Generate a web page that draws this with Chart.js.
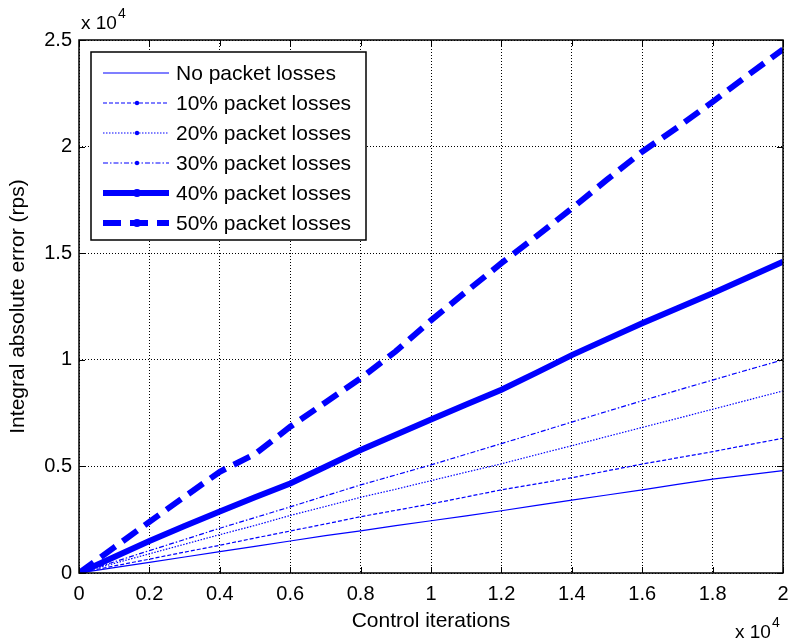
<!DOCTYPE html>
<html>
<head>
<meta charset="utf-8">
<script src="https://cdn.jsdelivr.net/npm/chart.js@4/dist/chart.umd.min.js"></script>
<style>
  body { margin: 0; background: #fff; }
  #wrap { width: 788px; height: 644px; position: relative; }
</style>
</head>
<body>
<div id="wrap"><canvas id="iaeChart"></canvas></div>
<script>
// control iterations (raw count) and integral absolute error (rps, raw)
const iterations = [0, 1000, 2000, 3000, 4000, 5000, 6000, 7000, 8000, 9000, 10000,
                    11000, 12000, 13000, 14000, 15000, 16000, 17000, 18000, 19000, 20000];
const iaeNoLoss = [0, 250, 500, 750, 1000, 1250, 1500, 1750, 1980, 2220, 2450,
                   2680, 2920, 3170, 3420, 3660, 3900, 4160, 4400, 4600, 4800];
const iaeLoss10 = [0, 330, 650, 980, 1300, 1640, 1970, 2300, 2640, 2940, 3240,
                   3570, 3900, 4180, 4470, 4790, 5110, 5400, 5690, 6010, 6320];
const iaeLoss20 = [0, 450, 900, 1350, 1800, 2230, 2700, 3120, 3550, 3930, 4330,
                   4730, 5120, 5550, 5970, 6400, 6830, 7250, 7680, 8110, 8540];
const iaeLoss30 = [0, 520, 1050, 1570, 2100, 2600, 3100, 3620, 4130, 4600, 5070,
                   5570, 6070, 6570, 7080, 7580, 8080, 8570, 9050, 9530, 10000];
const iaeLoss40 = [0, 750, 1500, 2200, 2880, 3550, 4200, 4980, 5770, 6480, 7200,
                   7900, 8600, 9400, 10220, 10970, 11710, 12420, 13120, 13860, 14600];
const iaeLoss50 = [0, 1200, 2400, 3580, 4750, 5580, 6860, 8000, 9130, 10400, 11850,
                   13200, 14530, 15800, 17100, 18450, 19760, 20900, 22100, 23350, 24560];

const seriesNames = ['No packet losses', '10% packet losses', '20% packet losses',
                     '30% packet losses', '40% packet losses', '50% packet losses'];

const xTickValues = [0, 2000, 4000, 6000, 8000, 10000, 12000, 14000, 16000, 18000, 20000];
const xTickLabels = ['0', '0.2', '0.4', '0.6', '0.8', '1', '1.2', '1.4', '1.6', '1.8', '2'];
const yTickValues = [0, 5000, 10000, 15000, 20000, 25000];
const yTickLabels = ['0', '0.5', '1', '1.5', '2', '2.5'];

const FONT = "'Liberation Sans', Arial, Helvetica, sans-serif";
const BLUE = '#0000ff';

// line style per series: width, dash, legend marker
const styles = [
    { width: 1.2, dash: [], marker: false },
    { width: 1.2, dash: [4, 2], marker: true },
    { width: 1.2, dash: [1.5, 1.5], marker: true },
    { width: 1.2, dash: [5, 2, 1.5, 2], marker: true },
    { width: 6, dash: [], marker: true },
    { width: 6, dash: [18, 9], marker: true }
];
const seriesValues = [iaeNoLoss, iaeLoss10, iaeLoss20, iaeLoss30, iaeLoss40, iaeLoss50];

const datasets = seriesValues.map((vals, i) => ({
    label: seriesNames[i],
    data: vals.map((v, k) => ({ x: iterations[k], y: v })),
    borderColor: BLUE,
    borderWidth: styles[i].width,
    borderDash: styles[i].dash,
    pointRadius: 0,
    tension: 0,
    fill: false
}));

// axes box with inward ticks, boxed legend and the "x 10^4" multipliers
const matlabFrame = {
    id: 'matlabFrame',
    afterDraw(chart) {
        const { ctx, chartArea: a, scales } = chart;
        ctx.save();
        ctx.strokeStyle = '#000';
        ctx.lineWidth = 1.5;
        ctx.setLineDash([]);
        ctx.strokeRect(a.left, a.top, a.right - a.left, a.bottom - a.top);

        const tl = 6;
        ctx.lineWidth = 1;
        ctx.beginPath();
        xTickValues.forEach(v => {
            const px = Math.round(scales.x.getPixelForValue(v)) + 0.5;
            ctx.moveTo(px, a.bottom); ctx.lineTo(px, a.bottom - tl);
            ctx.moveTo(px, a.top); ctx.lineTo(px, a.top + tl);
        });
        yTickValues.forEach(v => {
            const py = Math.round(scales.y.getPixelForValue(v)) + 0.5;
            ctx.moveTo(a.left, py); ctx.lineTo(a.left + tl, py);
            ctx.moveTo(a.right, py); ctx.lineTo(a.right - tl, py);
        });
        ctx.stroke();

        // legend
        const lx = a.left + 12, ly = a.top + 12, lw = 275, lh = 188;
        ctx.fillStyle = '#fff';
        ctx.fillRect(lx, ly, lw, lh);
        ctx.strokeStyle = '#000';
        ctx.lineWidth = 1.5;
        ctx.strokeRect(lx, ly, lw, lh);
        ctx.font = '21px ' + FONT;
        ctx.textBaseline = 'middle';
        ctx.textAlign = 'left';
        seriesNames.forEach((name, i) => {
            const y = ly + 21 + i * 30;
            const st = styles[i];
            ctx.strokeStyle = BLUE;
            ctx.lineWidth = st.width;
            ctx.setLineDash(st.dash);
            ctx.beginPath();
            ctx.moveTo(lx + 12, y);
            ctx.lineTo(lx + 78, y);
            ctx.stroke();
            ctx.setLineDash([]);
            if (st.marker) {
                ctx.fillStyle = BLUE;
                ctx.beginPath();
                ctx.arc(lx + 46, y, st.width > 2 ? 4 : 2.2, 0, Math.PI * 2);
                ctx.fill();
            }
            ctx.fillStyle = '#000';
            ctx.fillText(name, lx + 85, y + 1);
        });

        // exponent labels
        ctx.fillStyle = '#000';
        ctx.textBaseline = 'alphabetic';
        const drawExp = (x, y) => {
            ctx.font = '19px ' + FONT;
            ctx.fillText('x 10', x, y);
            const w = ctx.measureText('x 10').width;
            ctx.font = '14px ' + FONT;
            ctx.fillText('4', x + w + 1, y - 11);
        };
        drawExp(a.left + 2, a.top - 11);
        drawExp(735, 638);
        ctx.restore();
    }
};

const ctx = document.getElementById('iaeChart').getContext('2d');
new Chart(ctx, {
    type: 'line',
    data: { datasets: datasets },
    plugins: [matlabFrame],
    options: {
        responsive: true,
        maintainAspectRatio: false,
        animation: false,
        layout: { padding: { top: 40, right: 5, left: 0, bottom: 0 } },
        plugins: {
            legend: { display: false },
            tooltip: { enabled: false }
        },
        scales: {
            x: {
                type: 'linear',
                min: 0,
                max: 20000,
                afterBuildTicks: s => { s.ticks = xTickValues.map(v => ({ value: v })); },
                afterFit: s => { s.height = 71; s.paddingLeft = 0; s.paddingRight = 0; },
                grid: { color: '#000', lineWidth: 1, drawTicks: false },
                border: { display: false, dash: [1, 2] },
                ticks: {
                    callback: (v, i) => xTickLabels[i],
                    color: '#000',
                    font: { size: 20, family: FONT },
                    padding: 9,
                    maxRotation: 0,
                    autoSkip: false
                },
                title: {
                    display: true,
                    text: 'Control iterations',
                    color: '#000',
                    font: { size: 21, family: FONT },
                    padding: { top: 0, bottom: 10 }
                }
            },
            y: {
                type: 'linear',
                min: 0,
                max: 25000,
                afterBuildTicks: s => { s.ticks = yTickValues.map(v => ({ value: v })); },
                afterFit: s => { s.width = 79; },
                grid: { color: '#000', lineWidth: 1, drawTicks: false },
                border: { display: false, dash: [1, 2] },
                ticks: {
                    callback: (v, i) => yTickLabels[i],
                    color: '#000',
                    font: { size: 20, family: FONT },
                    padding: 7,
                    autoSkip: false
                },
                title: {
                    display: true,
                    text: 'Integral absolute error (rps)',
                    color: '#000',
                    font: { size: 21, family: FONT },
                    padding: { top: 6, bottom: 0 }
                }
            }
        }
    }
});
</script>
</body>
</html>
